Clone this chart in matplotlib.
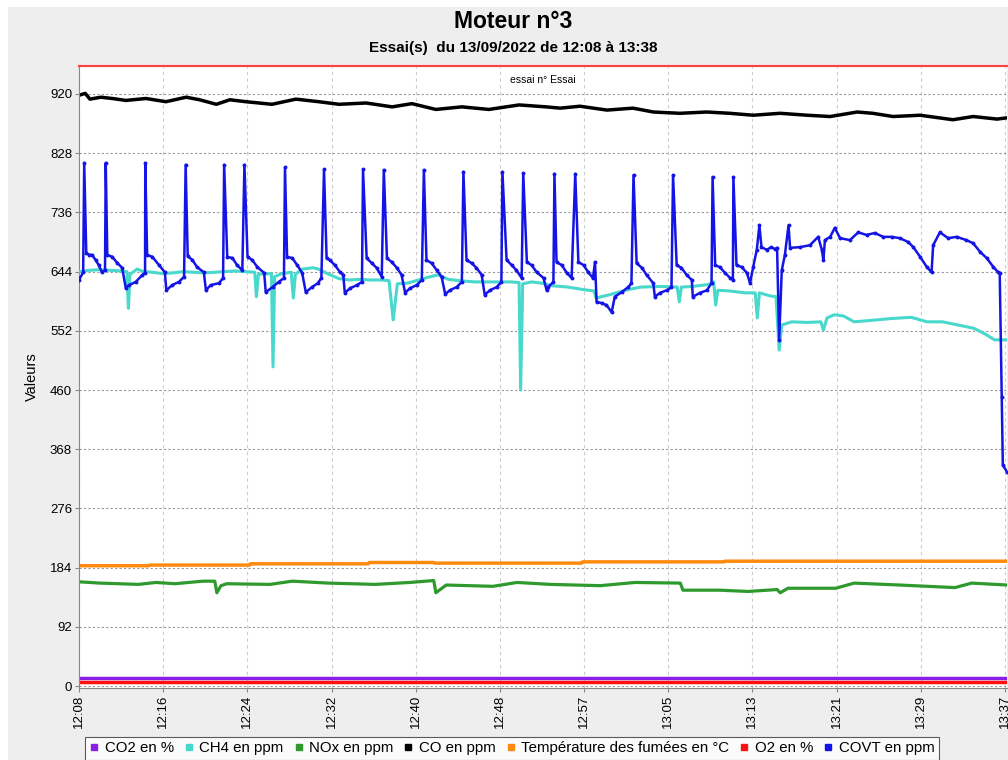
import matplotlib
matplotlib.use("Agg")
import matplotlib.pyplot as plt
from matplotlib.lines import Line2D
from matplotlib.patches import Rectangle

# ---------------- data (time in minutes after 12:08) ----------------
tick_labels = ["12:08", "12:16", "12:24", "12:32", "12:40", "12:48", "12:57",
               "13:05", "13:13", "13:21", "13:29", "13:37"]
y_ticks = [0, 92, 184, 276, 368, 460, 552, 644, 736, 828, 920]

co2_t = [0, 89.2]
co2_v = [13, 13]

o2_t = [0, 89.2]
o2_v = [7, 7]

temp_t = [0, 6.7, 6.8, 16.4, 16.5, 27.8, 27.9, 34.1, 34.2, 48.3, 48.4, 62.0, 62.1, 89.2]
temp_v = [187, 187, 188, 188, 190, 190, 192, 192, 191, 191, 193, 193, 194, 194]

nox_t = [0, 2.0, 5.7, 7.4, 9.2, 11.9, 13.05, 13.25, 13.65, 14.2, 18.35, 20.5, 23.95,
         28.45, 31.8, 34.1, 34.3, 35.3, 39.8, 42.1, 45.3, 50.1, 53.45, 57.8, 58.05,
         61.6, 64.3, 67.1, 67.4, 68.15, 72.75, 74.5, 78.9, 84.2, 85.8, 89.2]
nox_v = [162, 160, 158, 161, 159, 163, 163, 145, 156, 159, 158, 163, 160,
         158, 161, 164, 145, 157, 155, 161, 158, 156, 161, 160, 149,
         149, 147, 150, 145, 152, 152, 160, 157, 153, 160, 157]

co_t = [0, 0.6, 1.05, 2.1, 3.2, 4.5, 6.45, 8.35, 10.3, 11.6, 13.2, 14.5, 16.05,
        18.55, 20.85, 23.05, 25.0, 27.6, 30.1, 32.0, 34.3, 36.8, 39.4, 42.3,
        44.9, 46.25, 48.15, 50.75, 53.25, 55.2, 57.75, 60.35, 62.55, 64.8,
        67.4, 70.0, 72.2, 74.8, 76.3, 78.25, 80.85, 84.0, 85.95, 88.25, 89.2]
co_v = [918, 921, 912, 915, 913, 910, 913, 908, 915, 911, 904, 911, 908,
        904, 912, 908, 904, 906, 900, 905, 896, 900, 896, 903,
        900, 898, 901, 895, 898, 892, 890, 892, 890, 887,
        890, 887, 885, 892, 890, 885, 887, 880, 885, 881, 883]

ch4_t = [0, 1.0, 2.0, 3.0, 4.0, 4.6, 4.75, 4.9, 5.6, 6.0, 7.0, 8.0, 9.0, 10.0,
         11, 12, 13, 14, 15, 16, 16.9, 17.05, 17.25, 18.5, 18.65, 18.8, 19.5,
         20.4, 20.6, 20.8, 21.5, 22.5, 23.0, 24.0, 25, 26, 27, 28, 29, 29.8,
         30.2, 30.6, 31.5, 32, 33.5, 34.5, 35.5, 36.5, 38, 40, 41.5, 42.3, 42.45,
         42.65, 43.5, 44.5, 45.5, 47, 48.5, 49.5, 49.7, 51, 52.5, 54, 56, 57.5,
         57.7, 57.9, 59, 60.5, 61.0, 61.2, 61.4, 62.5, 64.0, 65.0, 65.2, 65.4,
         66.5, 67.0, 67.3, 67.55, 68.5, 70, 71.3, 71.55, 71.9, 72.6, 73.5, 74.5,
         76, 78, 80, 81.5, 83, 84.5, 86, 87.0, 88, 89.2]
ch4_v = [644, 646, 647, 646, 645, 644, 587, 640, 648, 645, 643, 641, 642, 644,
         643, 642, 643, 644, 645, 644, 643, 605, 640, 641, 496, 636, 641,
         643, 603, 640, 648, 650, 648, 640, 633, 631, 632, 631, 631, 630,
         569, 625, 626, 628, 635, 639, 632, 630, 628, 628, 628, 627, 460,
         625, 628, 626, 622, 620, 616, 614, 603, 608, 615, 620, 621, 620,
         597, 620, 621, 624, 628, 592, 615, 614, 611, 611, 572, 611,
         606, 605, 522, 561, 566, 565, 566, 553, 572, 577, 575, 566,
         568, 571, 573, 566, 566, 561, 556, 548, 538, 538]

covt_t = [0.0, 0.4, 0.5, 0.7, 1.0, 1.25, 1.6, 1.9, 2.2, 2.5, 2.57, 2.72, 3.2, 3.7,
          4.15, 4.5, 4.8, 5.45, 6.1, 6.35, 6.37, 6.55, 7.05, 7.7, 8.25, 8.4, 8.95,
          9.6, 10.1, 10.25, 10.45, 10.9, 11.35, 12.0, 12.2, 12.65, 13.45, 13.85,
          13.95, 14.25, 14.75, 15.2, 15.7, 15.9, 16.2, 16.65, 17.15, 17.8, 17.95,
          18.6, 19.2, 19.7, 19.8, 20.0, 20.5, 20.98, 21.45, 21.8, 22.4, 22.95,
          23.3, 23.55, 23.8, 24.1, 24.6, 25.1, 25.4, 25.55, 26.05, 26.7, 27.2,
          27.3, 27.65, 28.15, 28.6, 29.1, 29.3, 29.6, 30.05, 30.55, 31.0, 31.35,
          31.8, 32.45, 32.95, 33.15, 33.4, 33.9, 34.4, 34.85, 35.2, 35.65, 36.3,
          36.8, 36.95, 37.25, 37.75, 38.2, 38.7, 39.0, 39.5, 40.15, 40.6, 40.7,
          41.1, 41.6, 42.05, 42.55, 42.7, 43.05, 43.5, 44.0, 44.65, 44.95, 45.1,
          45.6, 45.7, 45.9, 46.4, 46.9, 47.35, 47.7, 48.0, 48.5, 48.95, 49.4,
          49.6, 49.75, 50.25, 50.7, 51.2, 51.5, 52.15, 52.8, 53.1, 53.3, 53.6,
          54.1, 54.55, 55.2, 55.35, 55.85, 56.5, 56.95, 57.1, 57.45, 57.9, 58.4,
          58.9, 59.0, 59.7, 60.35, 60.8, 60.9, 61.15, 61.6, 62.1, 62.6, 62.85,
          62.9, 63.2, 63.7, 64.2, 64.5, 64.8, 65.15, 65.4, 65.6, 66.1, 66.55,
          66.9, 67.1, 67.3, 67.55, 67.85, 68.2, 68.35, 69.3, 70.25, 71.05, 71.4,
          71.55, 71.7, 72.2, 72.65, 73.15, 74.1, 74.9, 75.7, 76.5, 77.3, 78.1,
          78.9, 79.7, 80.2, 80.85, 81.5, 81.95, 82.1, 82.75, 83.55, 84.35, 85.3,
          85.95, 86.6, 87.25, 87.9, 88.35, 88.5, 88.7, 88.8, 89.2]
covt_v = [631, 643, 813, 673, 670, 670, 662, 654, 643, 646, 813, 670, 667, 657,
          650, 618, 623, 628, 639, 642, 813, 670, 667, 654, 643, 615, 623,
          628, 636, 810, 668, 662, 651, 643, 615, 623, 626, 634,
          810, 667, 665, 654, 646, 810, 667, 662, 651, 642, 612,
          620, 628, 634, 806, 667, 665, 654, 642, 612, 620, 626,
          634, 803, 665, 662, 654, 643, 639, 611, 618, 623, 628,
          803, 665, 657, 650, 636, 802, 665, 659, 650, 639, 611,
          618, 623, 631, 802, 662, 657, 646, 636, 609, 615, 620,
          628, 799, 662, 657, 650, 639, 608, 615, 620, 628, 799,
          662, 654, 646, 634, 797, 659, 654, 643, 634, 615, 620,
          628, 796, 659, 654, 642, 634, 796, 659, 654, 643, 634,
          659, 597, 595, 592, 581, 605, 612, 620, 626, 794, 657,
          650, 639, 626, 605, 611, 615, 620, 794, 654, 650, 639,
          631, 605, 611, 615, 626, 791, 654, 651, 642, 634, 631,
          791, 654, 651, 642, 626, 651, 678, 716, 682, 678, 682,
          679, 681, 538, 646, 670, 716, 681, 682, 685, 698, 678,
          662, 693, 698, 712, 696, 693, 705, 701, 704, 698, 698,
          696, 690, 682, 667, 651, 643, 685, 705, 696, 698, 693,
          688, 675, 665, 651, 643, 642, 449, 343, 333]

series_names = ["CO2 en %", "CH4 en ppm", "NOx en ppm", "CO en ppm",
                "Température des fumées en °C", "O2 en %", "COVT en ppm"]
series_colors = ["#8B1EE6", "#48D8CC", "#2E9A2E", "#000000", "#FF8A10", "#FF1010", "#1414E6"]

# ---------------- figure ----------------
plt.rcParams['font.family'] = ['Liberation Sans', 'DejaVu Sans']
fig = plt.figure(figsize=(10.08, 7.6), dpi=100)
fig.patch.set_facecolor("white")
fig.add_artist(Rectangle((8 / 1008, 0), 1, 1 - 7 / 760, transform=fig.transFigure,
                         facecolor="#EEEEEE", edgecolor="none", zorder=-10))

ax = fig.add_axes([79 / 1008, 1 - 688 / 760, (1007 - 79) / 1008, (688 - 66) / 760])
ax.set_facecolor("white")

ax.plot(co2_t, co2_v, color=series_colors[0], lw=2.5, zorder=2)
ax.plot(o2_t, o2_v, color=series_colors[5], lw=2.5, zorder=2)
ax.plot(temp_t, temp_v, color=series_colors[4], lw=2.5, zorder=2)
ax.plot(nox_t, nox_v, color=series_colors[2], lw=2.3, zorder=2)
ax.plot(co_t, co_v, color=series_colors[3], lw=2.5, zorder=2)
ax.plot(ch4_t, ch4_v, color=series_colors[1], lw=2.2, zorder=3)
ax.plot(covt_t, covt_v, color=series_colors[6], lw=1.8, marker="o", ms=1.8, zorder=4)

ax.set_xlim(0, 89.2)
ax.set_ylim(-3, 963.5)
ax.set_yticks(y_ticks)
ax.set_yticklabels([str(v) for v in y_ticks], fontsize=9.5)
xt = [i * 89 / 11 for i in range(len(tick_labels))]
ax.set_xticks(xt)
ax.set_xticklabels(tick_labels, rotation=90, fontsize=9.5)
ax.tick_params(axis="both", length=3, color="#888888", pad=2)

ax.yaxis.grid(True, color="#999999", linestyle=(0, (2, 2)), lw=0.8)
ax.xaxis.grid(True, color="#CCCCCC", linestyle=(0, (3, 3)), lw=0.8)
ax.set_axisbelow(True)

for s in ["left", "bottom"]:
    ax.spines[s].set_color("#888888")
ax.spines["right"].set_visible(False)
ax.spines["top"].set_color("#FF4040")
ax.spines["top"].set_linewidth(1.5)

ax.set_ylabel("Valeurs", fontsize=10.5, labelpad=8)
ax.text(0.5, 0.985, "essai n° Essai", transform=ax.transAxes, ha="center",
        va="top", fontsize=7.5)

fig.text(513 / 1008, 1 - 22 / 760, "Moteur n°3", ha="center", va="center",
         fontsize=16.5, fontweight="bold")
fig.text(513 / 1008, 1 - 48 / 760, "Essai(s)  du 13/09/2022 de 12:08 à 13:38",
         ha="center", va="center", fontsize=11, fontweight="bold")

handles = [Line2D([], [], linestyle="none", marker="s", ms=5, color=c) for c in series_colors]
leg = fig.legend(handles, series_names, loc="center", ncol=7,
                 bbox_to_anchor=(512 / 1008, 1 - 748 / 760), fontsize=10.8,
                 frameon=True, fancybox=False, edgecolor="#333333",
                 handlelength=0.6, handletextpad=0.4, columnspacing=0.7,
                 borderpad=0.3, borderaxespad=0)
leg.get_frame().set_linewidth(0.8)
leg.get_frame().set_facecolor("white")

fig.savefig("out.png", dpi=100)
